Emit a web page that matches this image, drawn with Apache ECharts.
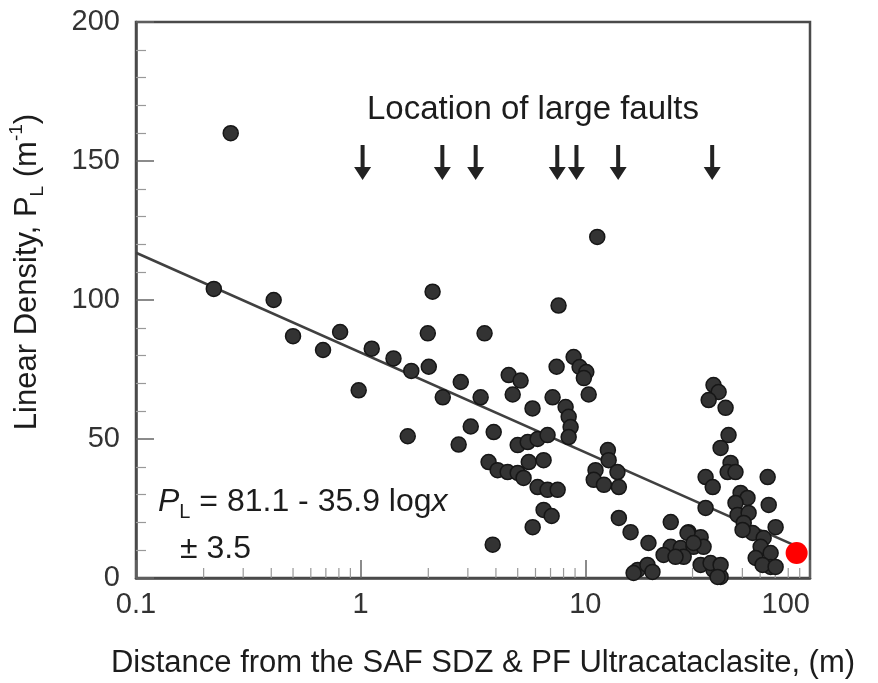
<!DOCTYPE html>
<html>
<head>
<meta charset="utf-8">
<script src="https://cdn.jsdelivr.net/npm/echarts@6/dist/echarts.min.js"></script>
<style>
  html, body { margin: 0; padding: 0; background: #ffffff; }
  #chart { width: 878px; height: 683px; }
</style>
</head>
<body>
<div id="chart"></div>
<script>
// Fracture linear density versus distance from the fault core (log distance axis)
const distance = [
  0.264, 0.222, 0.41, 0.50, 0.68, 0.81, 0.98, 1.12, 1.40, 1.68,
  1.62, 2.09, 1.99, 2.01, 2.32, 2.79, 3.09, 2.73, 3.56, 3.42,
  3.91, 3.87, 4.56, 5.15, 4.75, 5.82, 7.15, 7.60, 7.45, 8.87,
  9.43, 10.1, 9.85, 10.35, 8.17, 8.43, 8.60, 8.43, 5.00, 5.54,
  6.13, 6.79, 5.60, 6.52, 3.71, 4.07, 4.51, 5.00, 5.31, 6.13,
  6.79, 7.53, 6.52, 7.08, 5.83, 11.3, 12.6, 12.7, 11.1, 10.9,
  12.1, 13.9, 14.1, 14.1, 15.9, 19.1, 17.1, 18.9, 19.9, 16.4,
  24.0, 28.8, 32.6, 24.0, 22.3, 26.6, 30.3, 33.6, 34.3, 32.6,
  37.2, 40.0, 36.1, 40.0, 37.2, 39.2, 35.4, 42.1, 43.4, 40.0,
  44.3, 43.0, 46.6, 34.3, 36.9, 64.8, 49.1, 52.7, 65.5, 46.6,
  47.6, 53.3, 70.3, 50.7, 55.6, 62.2, 60.3, 57.3, 66.8, 66.8,
  61.5, 70.3, 28.5, 30.3, 27.4, 25.2, 38.8, 50.1
];
const density = [
  160, 104, 100, 87, 82, 88.5, 67.5, 82.5, 79, 74.5,
  51, 103, 88, 76, 65, 70.5, 54.5, 48, 88, 65,
  52.5, 12, 73, 71, 66, 61, 65, 98, 76, 79.5,
  75.9, 74.1, 71.9, 66, 61.5, 58, 54.3, 50.7, 47.8, 48.9,
  50, 51.4, 41.7, 42.4, 41.7, 38.8, 38.1, 37.8, 36, 32.7,
  31.7, 31.7, 24.5, 22.3, 18.3, 122.7, 46, 42.4, 38.8, 35.3,
  33.5, 38.1, 32.7, 21.6, 16.5, 12.6, 2.9, 4.7, 2.2, 1.8,
  20.1, 16.5, 14.7, 11.2, 8.3, 10.8, 11.2, 11.2, 25.2, 4.7,
  2.9, 0.4, 5.4, 4.7, 69.4, 66.9, 64, 61.2, 51.4, 46.8,
  41.4, 38.1, 38.1, 36.3, 32.7, 36.3, 30.6, 28.8, 26.3, 27,
  22.7, 23.4, 18.3, 19.8, 16.2, 14.4, 11.2, 7.2, 9.0, 4.0,
  4.7, 4.0, 16.2, 12.6, 7.6, 7.6, 0.4, 17.3
];

// Highlighted sample (red)
const highlightDistance = [87.2];
const highlightDensity = [9.0];

// Positions of the large faults (arrows)
const faultDistance = [1.02, 2.31, 3.25, 7.5, 9.13, 14.0, 36.7];
const faultArrowLevel = [149.5];

// Fit: P_L = 81.1 - 35.9 log x
const fitIntercept = 81.1;
const fitSlope = -35.9;
const fitRange = [0.1, 90];

// Axis ticks
const xTickLabels = ['0.1', '1', '10', '100'];
const xTickValues = [0.1, 1, 10, 100];
const xMinorTicks = [0.2, 0.3, 0.4, 0.5, 0.6, 0.7, 0.8, 0.9,
                     2, 3, 4, 5, 6, 7, 8, 9,
                     20, 30, 40, 50, 60, 70, 80, 90];
const yTickLabels = ['0', '50', '100', '150', '200'];

const FONT = '"Liberation Sans", Arial, Helvetica, sans-serif';
const TEXT = '#1c1c1c';
const FRAME = '#4a4a4a';

const points = distance.map((d, i) => [d, density[i]]);
const highlight = highlightDistance.map((d, i) => [d, highlightDensity[i]]);
const faults = faultDistance.map(d => [d, faultArrowLevel[0]]);
const fitLine = fitRange.map(x => [x, fitIntercept + fitSlope * Math.log10(x)]);

const chart = echarts.init(document.getElementById('chart'), null, { renderer: 'canvas' });

const arrowPath = 'path://M6.5,0 L10.5,0 L10.5,22 L17,22 L8.5,35 L0,22 L6.5,22 Z';

chart.setOption({
  animation: false,
  backgroundColor: '#ffffff',
  grid: {
    left: 136, right: 68, top: 22, bottom: 105,
    show: true, borderColor: FRAME, borderWidth: 2.5, backgroundColor: 'transparent'
  },
  xAxis: {
    type: 'log',
    logBase: 10,
    min: 0.1,
    max: 100,
    axisLine: { show: true, lineStyle: { color: FRAME, width: 2.5 } },
    axisTick: { show: true, inside: true, length: 18, lineStyle: { color: '#666', width: 1.5 } },
    splitLine: { show: false },
    axisLabel: {
      fontFamily: FONT, fontSize: 29, color: '#333', margin: 12,
      alignMaxLabel: 'right',
      formatter: v => {
        const k = xTickValues.findIndex(t => Math.abs(Math.log10(t) - Math.log10(v)) < 1e-6);
        return k >= 0 ? xTickLabels[k] : '';
      }
    }
  },
  yAxis: {
    type: 'value',
    min: 0,
    max: 200,
    interval: 50,
    axisLine: { show: true, lineStyle: { color: FRAME, width: 2.5 } },
    axisTick: { show: true, inside: true, length: 18, lineStyle: { color: '#666', width: 1.5 } },
    minorTick: { show: true, splitNumber: 5, length: 10, lineStyle: { color: '#999', width: 1.2 } },
    splitLine: { show: false },
    minorSplitLine: { show: false },
    axisLabel: {
      fontFamily: FONT, fontSize: 29, color: '#333', margin: 16,
      formatter: (v) => yTickLabels[Math.round(v / 50)]
    }
  },
  series: [
    {
      // minor log ticks on the distance axis
      type: 'custom',
      silent: true,
      z: 1,
      data: xMinorTicks.map(v => [v, 0]),
      encode: { x: 0, y: 1 },
      renderItem: (params, api) => {
        const p = api.coord([api.value(0), 0]);
        return {
          type: 'line',
          shape: { x1: p[0], y1: p[1], x2: p[0], y2: p[1] - 10 },
          style: { stroke: '#999', lineWidth: 1.2 }
        };
      }
    },
    {
      type: 'line',
      data: fitLine,
      showSymbol: false,
      silent: true,
      z: 2,
      lineStyle: { color: '#404040', width: 2.5 }
    },
    {
      type: 'scatter',
      data: points,
      symbol: 'circle',
      symbolSize: 15,
      z: 3,
      itemStyle: { color: '#333333', borderColor: '#161616', borderWidth: 1.5, opacity: 1 }
    },
    {
      type: 'scatter',
      data: highlight,
      symbol: 'circle',
      symbolSize: 22,
      z: 4,
      itemStyle: { color: '#ff0000', opacity: 1 }
    },
    {
      type: 'scatter',
      data: faults,
      symbol: arrowPath,
      symbolSize: [17, 35],
      z: 4,
      itemStyle: { color: '#222222', opacity: 1 }
    }
  ],
  graphic: [
    {
      type: 'text',
      x: 533, y: 110,
      style: {
        text: 'Location of large faults',
        font: '33px ' + FONT,
        fill: TEXT,
        align: 'center',
        verticalAlign: 'middle'
      }
    },
    {
      type: 'text',
      x: 158, y: 502,
      style: {
        text: '{i|P}{sub|L}{t| = 81.1 - 35.9 log}{i|x}',
        align: 'left',
        verticalAlign: 'middle',
        rich: {
          t: { fontFamily: FONT, fontSize: 32, fill: TEXT, lineHeight: 40, verticalAlign: 'middle' },
          i: { fontFamily: FONT, fontSize: 32, fontStyle: 'italic', fill: TEXT, lineHeight: 40, verticalAlign: 'middle' },
          sub: { fontFamily: FONT, fontSize: 20, fill: TEXT, lineHeight: 20, verticalAlign: 'bottom' }
        }
      }
    },
    {
      type: 'text',
      x: 180, y: 549,
      style: {
        text: '\u00B1 3.5',
        font: '32px ' + FONT,
        fill: TEXT,
        align: 'left',
        verticalAlign: 'middle'
      }
    },
    {
      type: 'text',
      x: 27, y: 272,
      rotation: Math.PI / 2,
      style: {
        text: '{t|Linear Density, P}{sub|L}{t| (m}{sup|-1}{t|)}',
        align: 'center',
        verticalAlign: 'middle',
        rich: {
          t: { fontFamily: FONT, fontSize: 31, fill: TEXT, lineHeight: 40, verticalAlign: 'middle' },
          sub: { fontFamily: FONT, fontSize: 19, fill: TEXT, lineHeight: 20, verticalAlign: 'bottom' },
          sup: { fontFamily: FONT, fontSize: 19, fill: TEXT, lineHeight: 20, verticalAlign: 'top' }
        }
      }
    },
    {
      type: 'text',
      x: 483, y: 663,
      style: {
        text: 'Distance from the SAF SDZ & PF Ultracataclasite, (m)',
        font: '31px ' + FONT,
        fill: TEXT,
        align: 'center',
        verticalAlign: 'middle'
      }
    }
  ]
});
</script>
</body>
</html>
